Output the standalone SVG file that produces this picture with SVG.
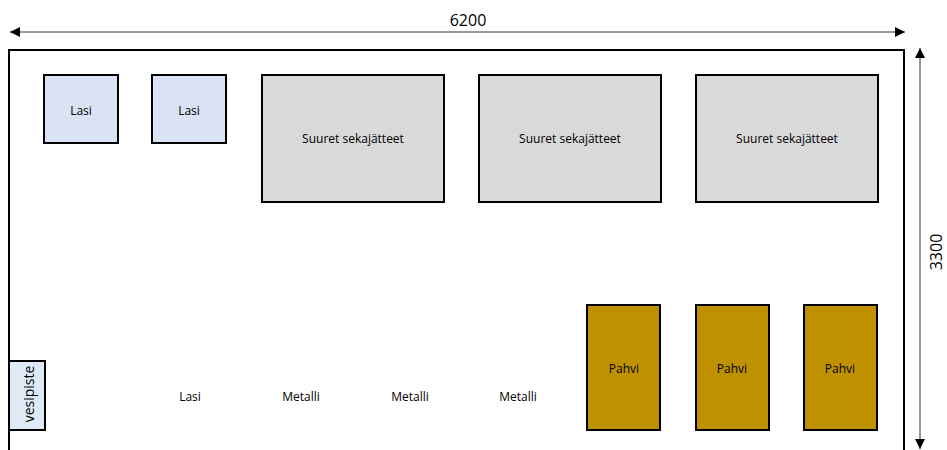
<svg xmlns="http://www.w3.org/2000/svg" width="947" height="450" viewBox="0 0 947 450">
<style>
text{font-family:"Open Sans","Noto Sans",sans-serif;font-size:12px;fill:#000;text-anchor:middle;dominant-baseline:central}
.box{stroke:#000;stroke-width:2}
.lasi{fill:#dae3f3}
.sek{fill:#d9d9d9}
.pahvi{fill:#bf9000}
.vesi{fill:#deebf7}
.dim{stroke:#333;stroke-width:1;fill:none}
.big{font-size:16px}
.vt{font-size:14px}
</style>
<defs>
<marker id="ah" viewBox="0 0 10 10" refX="10" refY="5" markerWidth="10" markerHeight="10" markerUnits="userSpaceOnUse" orient="auto-start-reverse">
<path d="M0,0 L10,5 L0,10 z" fill="#000"/>
</marker>
</defs>
<g id="area">
<path d="M9,452 V50 H904 V452" fill="none" stroke="#000" stroke-width="2"/>
</g>
<g id="connectors">
<line class="dim" x1="10" y1="32" x2="905" y2="32" marker-start="url(#ah)" marker-end="url(#ah)"/>
<line class="dim" x1="920" y1="48" x2="920" y2="449" marker-start="url(#ah)" marker-end="url(#ah)"/>
</g>
<g id="dim-w"><text class="big" x="468" y="20">6200</text></g>
<g id="dim-h"><text class="big" transform="translate(936,252) rotate(-90)">3300</text></g>
<g id="lasi1"><rect class="box lasi" x="44" y="75" width="74" height="68"/><text x="81" y="110">Lasi</text></g>
<g id="lasi2"><rect class="box lasi" x="152" y="75" width="74" height="68"/><text x="189" y="110">Lasi</text></g>
<g id="sek1"><rect class="box sek" x="262" y="75" width="182" height="127"/><text x="353" y="138">Suuret sekajätteet</text></g>
<g id="sek2"><rect class="box sek" x="479" y="75" width="182" height="127"/><text x="570" y="138">Suuret sekajätteet</text></g>
<g id="sek3"><rect class="box sek" x="696" y="75" width="182" height="127"/><text x="787" y="138">Suuret sekajätteet</text></g>
<g id="pahvi1"><rect class="box pahvi" x="587" y="305" width="73" height="125"/><text x="624" y="368">Pahvi</text></g>
<g id="pahvi2"><rect class="box pahvi" x="696" y="305" width="73" height="125"/><text x="732" y="368">Pahvi</text></g>
<g id="pahvi3"><rect class="box pahvi" x="804" y="305" width="73" height="125"/><text x="840" y="368">Pahvi</text></g>
<g id="vesipiste"><rect class="box vesi" x="9" y="361" width="36" height="69"/><text class="vt" transform="translate(28,394) rotate(-90)">vesipiste</text></g>
<g id="lasi3"><text x="190" y="396">Lasi</text></g>
<g id="metalli1"><text x="301" y="396">Metalli</text></g>
<g id="metalli2"><text x="410" y="396">Metalli</text></g>
<g id="metalli3"><text x="518" y="396">Metalli</text></g>
</svg>
